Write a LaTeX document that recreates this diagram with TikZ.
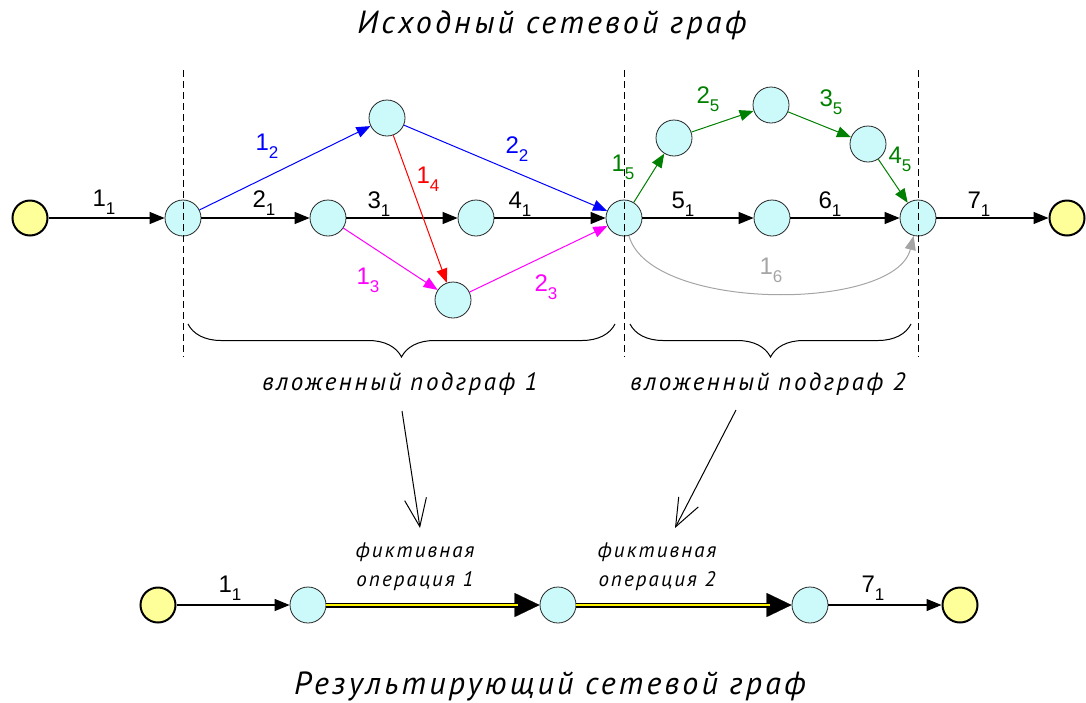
\documentclass[tikz,border=0pt]{standalone}
\usepackage{fontspec}
\setmainfont{Liberation Sans}
\newfontfamily\itf[LetterSpace=10]{PT Sans}
\usetikzlibrary{arrows.meta,decorations.pathreplacing}
\definecolor{evfill}{RGB}{204,250,250}
\definecolor{stfill}{RGB}{255,255,153}
\definecolor{grn}{RGB}{0,128,0}
\definecolor{gry}{RGB}{165,165,165}
\definecolor{mag}{RGB}{255,0,255}
\newcommand\opl[2]{#1\raisebox{-8pt}{\fontsize{17}{17}\selectfont#2}}
\tikzset{
  ev/.style={circle,draw=black!85,fill=evfill,minimum size=36pt,inner sep=0pt,line width=0.8pt},
  term/.style={circle,draw=black,fill=stfill,minimum size=35pt,inner sep=0pt,line width=2pt},
  arr/.style={-{Triangle[length=15pt,width=12pt]},line width=1.2pt},
  carr/.style={-{Triangle[length=14pt,width=11pt]},line width=1pt},
  lbl/.style={font=\fontsize{24}{24}\selectfont,inner sep=0pt},
  ttl/.style={font=\itf\itshape\fontsize{32}{32}\selectfont,inner sep=0pt},
  sgt/.style={font=\itf\itshape\fontsize{25}{25}\selectfont,inner sep=0pt},
  fct/.style={font=\itf\itshape\fontsize{21}{29}\selectfont,inner sep=0pt,align=center},
  sep/.style={dash pattern=on 7pt off 4pt,line width=1pt},
  brc/.style={decorate,decoration={brace,mirror,amplitude=33pt},line width=1pt},
  bigopen/.style={-{Straight Barb[length=28pt,width=22pt]},line width=1pt},
  dbl/.style={draw=black,double=yellow,double distance=2pt,line width=1.5pt},
  dtip/.style={-{Triangle[length=25pt,width=24pt]},line width=0.2pt}
}
\begin{document}
\begin{tikzpicture}[x=1pt,y=-1pt]
\useasboundingbox (0,0) rectangle (1086,702);
% titles
\node[ttl] (title) at (552,25) {Исходный сетевой граф};
\node[ttl] (rtitle) at (550,686) {Результирующий сетевой граф};
% top graph nodes
\node[term] (S) at (30,218) {};
\node[ev] (A) at (183,218) {};
\node[ev] (B) at (328,218) {};
\node[ev] (C) at (387,118) {};
\node[ev] (D) at (476,218) {};
\node[ev] (E) at (453,300) {};
\node[ev] (F) at (624,218) {};
\node[ev] (G1) at (674,138) {};
\node[ev] (G2) at (771,105) {};
\node[ev] (G3) at (868,144) {};
\node[ev] (H) at (772,218) {};
\node[ev] (I) at (918,218) {};
\node[term] (T) at (1067,218) {};
% top edges
\draw[arr] (S) -- (A);
\draw[arr] (A) -- (B);
\draw[arr] (B) -- (D);
\draw[arr] (D) -- (F);
\draw[arr] (F) -- (H);
\draw[arr] (H) -- (I);
\draw[arr] (I) -- (T);
\draw[carr,blue] (A) -- (C);
\draw[carr,blue] (C) -- (F);
\draw[carr,red] (C) -- (E);
\draw[carr,mag] (B) -- (E);
\draw[carr,mag] (E) -- (F);
\draw[carr,grn] (F) -- (G1);
\draw[carr,grn] (G1) -- (G2);
\draw[carr,grn] (G2) -- (G3);
\draw[carr,grn] (G3) -- (I);
\draw[carr,gry] (F) .. controls (650,312) and (895,312) .. (I);
% top labels
\node[lbl] (l11) at (104,202) {\opl{1}{1}};
\node[lbl] (l21) at (264,203) {\opl{2}{1}};
\node[lbl] (l31) at (379,204) {\opl{3}{1}};
\node[lbl] (l41) at (520,204) {\opl{4}{1}};
\node[lbl] (l51) at (683,204) {\opl{5}{1}};
\node[lbl] (l61) at (830,204) {\opl{6}{1}};
\node[lbl] (l71) at (979,204) {\opl{7}{1}};
\node[lbl,text=blue] (l12) at (267,146) {\opl{1}{2}};
\node[lbl,text=blue] (l22) at (517,149) {\opl{2}{2}};
\node[lbl,text=red] (l14) at (428,179) {\opl{1}{4}};
\node[lbl,text=mag] (l13) at (368,280) {\opl{1}{3}};
\node[lbl,text=mag] (l23) at (546,287) {\opl{2}{3}};
\node[lbl,text=grn] (l15) at (623,167) {\opl{1}{5}};
\node[lbl,text=grn] (l25) at (708,99) {\opl{2}{5}};
\node[lbl,text=grn] (l35) at (831,102) {\opl{3}{5}};
\node[lbl,text=grn] (l45) at (900,159) {\opl{4}{5}};
\node[lbl,text=gry] (l16) at (771,270) {\opl{1}{6}};
% separators
\coordinate (d1t) at (183,70); \coordinate (d1b) at (183,357);
\coordinate (d2t) at (624,70); \coordinate (d2b) at (624,357);
\coordinate (d3t) at (918,70); \coordinate (d3b) at (918,357);
\draw[sep] (d1t) -- (d1b);
\draw[sep] (d2t) -- (d2b);
\draw[sep] (d3t) -- (d3b);
% braces
\coordinate (b1l) at (188,324); \coordinate (b1r) at (615,324);
\coordinate (b2l) at (630,324); \coordinate (b2r) at (911,324);
\draw[brc] (b1l) -- (b1r);
\draw[brc] (b2l) -- (b2r);
\node[sgt] (sg1) at (400,384) {вложенный подграф 1};
\node[sgt] (sg2) at (768,384) {вложенный подграф 2};
% big arrows
\coordinate (a1s) at (402,411); \coordinate (a1e) at (420,528);
\coordinate (a2s) at (736,410); \coordinate (a2e) at (675,528);
\draw[bigopen] (a1s) -- (a1e);
\draw[bigopen] (a2s) -- (a2e);
% bottom graph
\node[term] (S2) at (158,605) {};
\node[ev] (P1) at (308,605) {};
\node[ev] (P2) at (558,605) {};
\node[ev] (P3) at (810,605) {};
\node[term] (T2) at (960,605) {};
\draw[arr] (S2) -- (P1);
\draw[arr] (P3) -- (T2);
\draw[dtip] (P1) -- (P2);
\draw[dtip] (P2) -- (P3);
\draw[dbl,shorten >=22pt] (P1) -- (P2);
\draw[dbl,shorten >=22pt] (P2) -- (P3);
\node[lbl] (b11) at (230,588) {\opl{1}{1}};
\node[lbl] (b71) at (873,588) {\opl{7}{1}};
\node[fct] (f1) at (415,567) {фиктивная\\операция 1};
\node[fct] (f2) at (657,567) {фиктивная\\операция 2};
\end{tikzpicture}
\end{document}
